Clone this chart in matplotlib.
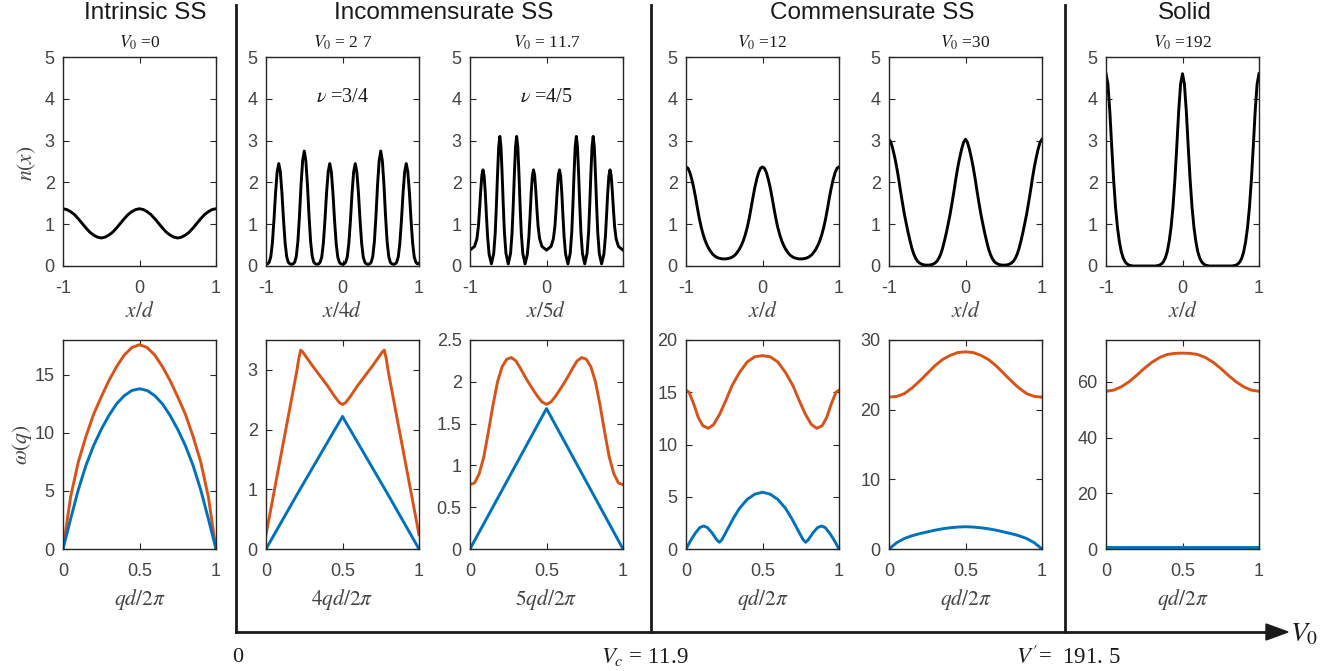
import numpy as np
import matplotlib
matplotlib.use("Agg")
import matplotlib.pyplot as plt
from matplotlib.lines import Line2D
from matplotlib.ticker import FuncFormatter

plt.rcParams['font.family'] = ['Liberation Sans', 'DejaVu Sans']
plt.rcParams['mathtext.fontset'] = 'stix'

# ---------------- data ----------------
# top row: density profiles n(x)
x_a = np.linspace(-1, 1, 41)          # grid for intrinsic panel
n_intrinsic = [1.37, 1.35, 1.30, 1.23, 1.13, 1.02, 0.91, 0.81, 0.74, 0.69, 0.67,
               0.69, 0.74, 0.81, 0.91, 1.02, 1.13, 1.23, 1.30, 1.35, 1.37,
               1.35, 1.30, 1.23, 1.13, 1.02, 0.91, 0.81, 0.74, 0.69, 0.67,
               0.69, 0.74, 0.81, 0.91, 1.02, 1.13, 1.23, 1.30, 1.35, 1.37]

x_b = np.linspace(-1, 1, 97)          # grid for nu = 3/4 panel
n_nu34 = [0.07,
          0.05, 0.09, 0.22, 0.55, 1.10, 1.75, 2.25, 2.45, 2.25, 1.75, 1.10, 0.55, 0.22, 0.09, 0.05, 0.04,
          0.05, 0.09, 0.23, 0.58, 1.20, 1.95, 2.52, 2.75, 2.52, 1.95, 1.20, 0.58, 0.23, 0.09, 0.05, 0.04,
          0.05, 0.09, 0.22, 0.55, 1.10, 1.75, 2.25, 2.45, 2.25, 1.75, 1.10, 0.55, 0.22, 0.09, 0.05, 0.04,
          0.05, 0.09, 0.22, 0.55, 1.10, 1.75, 2.25, 2.45, 2.25, 1.75, 1.10, 0.55, 0.22, 0.09, 0.05, 0.04,
          0.05, 0.09, 0.23, 0.58, 1.20, 1.95, 2.52, 2.75, 2.52, 1.95, 1.20, 0.58, 0.23, 0.09, 0.05, 0.04,
          0.05, 0.09, 0.22, 0.55, 1.10, 1.75, 2.25, 2.45, 2.25, 1.75, 1.10, 0.55, 0.22, 0.09, 0.05, 0.07]

x_nu45 = [-1.0, -0.94, -0.91, -0.89, -0.875, -0.86, -0.845, -0.83, -0.815, -0.8, -0.785, -0.77, -0.75,
          -0.72, -0.69, -0.67, -0.655, -0.64, -0.625, -0.61, -0.595, -0.58, -0.565, -0.55, -0.53, -0.5,
          -0.47, -0.45, -0.435, -0.42, -0.405, -0.39, -0.375, -0.36, -0.345, -0.33, -0.31, -0.28, -0.25,
          -0.23, -0.215, -0.2, -0.185, -0.17, -0.155, -0.14, -0.125, -0.11, -0.09, -0.06,
          0.0, 0.06, 0.09, 0.11, 0.125, 0.14, 0.155, 0.17, 0.185, 0.2, 0.215, 0.23, 0.25, 0.28, 0.31,
          0.33, 0.345, 0.36, 0.375, 0.39, 0.405, 0.42, 0.435, 0.45, 0.47, 0.5, 0.53, 0.55, 0.565, 0.58,
          0.595, 0.61, 0.625, 0.64, 0.655, 0.67, 0.69, 0.72, 0.75, 0.77, 0.785, 0.8, 0.815, 0.83, 0.845,
          0.86, 0.875, 0.89, 0.91, 0.94, 1.0]
n_nu45 = [0.38, 0.47, 0.65, 0.95, 1.35, 1.8, 2.17, 2.3, 2.15, 1.75, 1.2, 0.7, 0.28, 0.05, 0.3,
          0.8, 1.45, 2.2, 2.85, 3.1, 2.85, 2.2, 1.45, 0.8, 0.3, 0.05, 0.3, 0.8, 1.45, 2.2, 2.85, 3.1,
          2.85, 2.2, 1.45, 0.8, 0.3, 0.05, 0.28, 0.7, 1.2, 1.75, 2.15, 2.3, 2.17, 1.8, 1.35, 0.95,
          0.65, 0.47,
          0.38, 0.47, 0.65, 0.95, 1.35, 1.8, 2.17, 2.3, 2.15, 1.75, 1.2, 0.7, 0.28, 0.05, 0.3,
          0.8, 1.45, 2.2, 2.85, 3.1, 2.85, 2.2, 1.45, 0.8, 0.3, 0.05, 0.3, 0.8, 1.45, 2.2, 2.85, 3.1,
          2.85, 2.2, 1.45, 0.8, 0.3, 0.05, 0.28, 0.7, 1.2, 1.75, 2.15, 2.3, 2.17, 1.8, 1.35, 0.95,
          0.65, 0.47, 0.38]

x_c = np.linspace(-1, 1, 81)          # grid for V0 = 12, 30, 192 panels
n_v12 = [2.37, 2.34, 2.24, 2.08, 1.88, 1.64, 1.38, 1.13, 0.92, 0.75, 0.61, 0.5, 0.41, 0.34, 0.28, 0.24, 0.21, 0.19, 0.18, 0.17, 0.17,
         0.17, 0.18, 0.19, 0.21, 0.24, 0.28, 0.34, 0.41, 0.5, 0.61, 0.75, 0.92, 1.13, 1.38, 1.64, 1.88, 2.08, 2.24, 2.34, 2.37,
         2.34, 2.24, 2.08, 1.88, 1.64, 1.38, 1.13, 0.92, 0.75, 0.61, 0.5, 0.41, 0.34, 0.28, 0.24, 0.21, 0.19, 0.18, 0.17, 0.17,
         0.17, 0.18, 0.19, 0.21, 0.24, 0.28, 0.34, 0.41, 0.5, 0.61, 0.75, 0.92, 1.13, 1.38, 1.64, 1.88, 2.08, 2.24, 2.34, 2.37]

n_v30 = [3.03, 2.96, 2.8, 2.6, 2.37, 2.1, 1.8, 1.52, 1.25, 1.02, 0.8, 0.6, 0.42, 0.28, 0.18, 0.11, 0.07, 0.045, 0.03, 0.022, 0.02,
         0.022, 0.03, 0.045, 0.07, 0.11, 0.18, 0.28, 0.42, 0.6, 0.8, 1.02, 1.25, 1.52, 1.8, 2.1, 2.37, 2.6, 2.8, 2.96, 3.03,
         2.96, 2.8, 2.6, 2.37, 2.1, 1.8, 1.52, 1.25, 1.02, 0.8, 0.6, 0.42, 0.28, 0.18, 0.11, 0.07, 0.045, 0.03, 0.022, 0.02,
         0.022, 0.03, 0.045, 0.07, 0.11, 0.18, 0.28, 0.42, 0.6, 0.8, 1.02, 1.25, 1.52, 1.8, 2.1, 2.37, 2.6, 2.8, 2.96, 3.03]

n_v192 = [4.6, 4.35, 3.7, 2.85, 2.05, 1.4, 0.92, 0.58, 0.34, 0.19, 0.1, 0.05, 0.02, 0.01, 0, 0, 0, 0, 0, 0, 0,
          0, 0, 0, 0, 0, 0, 0.01, 0.02, 0.05, 0.1, 0.19, 0.34, 0.58, 0.92, 1.4, 2.05, 2.85, 3.7, 4.35, 4.6,
          4.35, 3.7, 2.85, 2.05, 1.4, 0.92, 0.58, 0.34, 0.19, 0.1, 0.05, 0.02, 0.01, 0, 0, 0, 0, 0, 0, 0,
          0, 0, 0, 0, 0, 0, 0.01, 0.02, 0.05, 0.1, 0.19, 0.34, 0.58, 0.92, 1.4, 2.05, 2.85, 3.7, 4.35, 4.6]

# bottom row: excitation spectra omega(q)
q_a = np.linspace(0, 1, 21)
w1_low = [0, 2.6, 5.1, 7.2, 8.9, 10.3, 11.5, 12.5, 13.2, 13.65, 13.8,
          13.65, 13.2, 12.5, 11.5, 10.3, 8.9, 7.2, 5.1, 2.6, 0]
w1_up = [0, 4.5, 7.5, 9.7, 11.6, 13.1, 14.5, 15.7, 16.7, 17.35, 17.6,
         17.35, 16.7, 15.7, 14.5, 13.1, 11.6, 9.7, 7.5, 4.5, 0]

q2_up = [0, 0.1, 0.2, 0.215, 0.227, 0.24, 0.3, 0.35, 0.4, 0.45, 0.48, 0.5,
         0.52, 0.55, 0.6, 0.65, 0.7, 0.76, 0.773, 0.785, 0.8, 0.9, 1.0]
w2_up = [0.24, 1.60, 2.96, 3.2, 3.33, 3.30, 3.08, 2.91, 2.74, 2.55, 2.45, 2.42,
         2.45, 2.55, 2.74, 2.91, 3.08, 3.30, 3.33, 3.2, 2.96, 1.60, 0.24]
q2_low = [0, 0.1, 0.2, 0.3, 0.4, 0.45, 0.48, 0.5, 0.52, 0.55, 0.6, 0.7, 0.8, 0.9, 1.0]
w2_low = [0, 0.45, 0.9, 1.34, 1.78, 2.0, 2.13, 2.22, 2.13, 2.0, 1.78, 1.34, 0.9, 0.45, 0]

q3_up = [0, 0.03, 0.06, 0.09, 0.12, 0.15, 0.18, 0.21, 0.24, 0.27, 0.3, 0.33, 0.36, 0.4, 0.44, 0.47, 0.5,
         0.53, 0.56, 0.6, 0.64, 0.67, 0.7, 0.73, 0.76, 0.79, 0.82, 0.85, 0.88, 0.91, 0.94, 0.97, 1.0]
w3_up = [0.77, 0.79, 0.9, 1.1, 1.4, 1.72, 2.0, 2.18, 2.27, 2.29, 2.25, 2.16, 2.06, 1.94, 1.83, 1.76, 1.73,
         1.76, 1.83, 1.94, 2.06, 2.16, 2.25, 2.29, 2.27, 2.18, 2.0, 1.72, 1.4, 1.1, 0.9, 0.79, 0.77]
q3_low = [0, 0.25, 0.5, 0.75, 1.0]
w3_low = [0, 0.84, 1.68, 0.84, 0]

q4_up = [0, 0.02, 0.05, 0.08, 0.11, 0.145, 0.18, 0.22, 0.26, 0.3, 0.35, 0.4, 0.45, 0.5,
         0.55, 0.6, 0.65, 0.7, 0.74, 0.78, 0.82, 0.855, 0.89, 0.92, 0.95, 0.98, 1.0]
w4_up = [15.2, 15.0, 13.9, 12.6, 11.8, 11.55, 11.9, 12.9, 14.2, 15.6, 16.9, 17.9, 18.4, 18.5,
         18.4, 17.9, 16.9, 15.6, 14.2, 12.9, 11.9, 11.55, 11.8, 12.6, 13.9, 15.0, 15.2]
q4_low = [0, 0.03, 0.06, 0.09, 0.115, 0.14, 0.17, 0.2, 0.218, 0.235, 0.27, 0.31, 0.35, 0.4, 0.45, 0.5,
          0.55, 0.6, 0.65, 0.69, 0.73, 0.765, 0.782, 0.8, 0.83, 0.86, 0.885, 0.91, 0.94, 0.97, 1.0]
w4_low = [0, 0.8, 1.5, 2.05, 2.2, 2.05, 1.55, 0.9, 0.64, 0.9, 1.85, 2.95, 3.9, 4.75, 5.25, 5.43,
          5.25, 4.75, 3.9, 2.95, 1.85, 0.9, 0.64, 0.9, 1.55, 2.05, 2.2, 2.05, 1.5, 0.8, 0]

w5_up = [21.8, 21.9, 22.3, 23.1, 24.1, 25.2, 26.3, 27.2, 27.8, 28.2, 28.3,
         28.2, 27.8, 27.2, 26.3, 25.2, 24.1, 23.1, 22.3, 21.9, 21.8]
w5_low = [0, 0.9, 1.5, 1.9, 2.2, 2.45, 2.7, 2.9, 3.05, 3.15, 3.2,
          3.15, 3.05, 2.9, 2.7, 2.45, 2.2, 1.9, 1.5, 0.9, 0]

w6_up = [56.6, 57.0, 58.2, 60.0, 62.3, 64.8, 67.0, 68.7, 69.8, 70.2, 70.3,
         70.2, 69.8, 68.7, 67.0, 64.8, 62.3, 60.0, 58.2, 57.0, 56.6]
q6_low = [0, 1]
w6_low = [0.8, 0.8]

phase_titles = ['Intrinsic SS', 'Incommensurate SS', 'Commensurate SS', 'Solid']
v0_labels = ['=0', '= 2 7', '= 11.7', '=12', '=30', '=192']
top_xlabels = [r'$x/d$', r'$x/4d$', r'$x/5d$', r'$x/d$', r'$x/d$', r'$x/d$']
bot_xlabels = [r'$qd/2\pi$', r'$4qd/2\pi$', r'$5qd/2\pi$', r'$qd/2\pi$', r'$qd/2\pi$', r'$qd/2\pi$']
bot_ylims = [18, 3.5, 2.5, 20, 30, 75]
bot_yticks = [[0, 5, 10, 15], [0, 1, 2, 3], [0, 0.5, 1, 1.5, 2, 2.5],
              [0, 5, 10, 15, 20], [0, 10, 20, 30], [0, 20, 40, 60]]

# ---------------- figure ----------------
W, H = 1332, 671
fig = plt.figure(figsize=(W / 100, H / 100), dpi=100)

lefts = [63, 266, 470, 686, 889, 1106]
aw, ah = 153, 209
top_t, bot_t = 57, 340
orange = '#D95319'
blue = '#0072BD'
ink = '#1a1a1a'
serif = ['Liberation Serif', 'DejaVu Serif']
fmt = FuncFormatter(lambda v, p: '%g' % v)


def make_ax(l, t):
    ax = fig.add_axes([l / W, 1 - (t + ah) / H, aw / W, ah / H])
    ax.tick_params(direction='in', length=4, width=0.8, top=True, right=True,
                   color='#262626', labelcolor='#444444', labelsize=13)
    ax.tick_params(axis='x', pad=10)
    ax.tick_params(axis='y', pad=6)
    for s in ax.spines.values():
        s.set_linewidth(1.0)
        s.set_color('#262626')
    ax.yaxis.set_major_formatter(fmt)
    ax.xaxis.set_major_formatter(fmt)
    return ax


top_data = [(x_a, n_intrinsic), (x_b, n_nu34), (x_nu45, n_nu45),
            (x_c, n_v12), (x_c, n_v30), (x_c, n_v192)]
bot_data = [((q_a, w1_low), (q_a, w1_up)), ((q2_low, w2_low), (q2_up, w2_up)),
            ((q3_low, w3_low), (q3_up, w3_up)), ((q4_low, w4_low), (q4_up, w4_up)),
            ((q_a, w5_low), (q_a, w5_up)), ((q6_low, w6_low), (q_a, w6_up))]

for i in range(6):
    ax = make_ax(lefts[i], top_t)
    xs, ys = top_data[i]
    ax.plot(xs, ys, color='black', lw=2.1)
    ax.set_xlim(-1, 1)
    ax.set_ylim(0, 5)
    ax.set_xticks([-1, 0, 1])
    ax.set_yticks([0, 1, 2, 3, 4, 5])
    ax.set_xlabel(top_xlabels[i], fontsize=15.5, color='#444444', labelpad=3)
    fig.text((lefts[i] + aw / 2) / W, 1 - 43 / H, r'$V_0$' + ' ' + v0_labels[i],
             ha='center', va='center', fontsize=12.5, family=serif, color=ink)
    if i == 1:
        ax.text(0, 4.03, r'$\nu$ =3/4', ha='center', va='center', fontsize=14.5, family=serif, color=ink)
    if i == 2:
        ax.text(0, 4.03, r'$\nu$ =4/5', ha='center', va='center', fontsize=14.5, family=serif, color=ink)

    bx = make_ax(lefts[i], bot_t)
    (ql, wl), (qu, wu) = bot_data[i]
    bx.plot(qu, wu, color=orange, lw=2.1)
    bx.plot(ql, wl, color=blue, lw=2.1)
    bx.set_xlim(0, 1)
    bx.set_ylim(0, bot_ylims[i])
    bx.set_xticks([0, 0.5, 1])
    bx.set_yticks(bot_yticks[i])
    bx.set_xlabel(bot_xlabels[i], fontsize=15.5, color='#444444', labelpad=5)

fig.text(27 / W, 1 - 163 / H, r'$n(x)$', rotation=90, ha='center', va='center', fontsize=15.5, color='#444444')
fig.text(22 / W, 1 - 445 / H, r'$\omega(q)$', rotation=90, ha='center', va='center', fontsize=15.5, color='#444444')

# phase headers
for cx, txt in zip([145, 444, 872, 1185], phase_titles):
    fig.text(cx / W, 1 - 13 / H, txt, ha='center', va='center', fontsize=17.5, color=ink)

# separators and V0 axis arrow
for sx in [236, 651, 1065]:
    fig.add_artist(Line2D([sx / W, sx / W], [1 - 5 / H, 1 - 632 / H], color=ink, lw=2))
fig.add_artist(Line2D([236 / W, 1270 / W], [1 - 632 / H, 1 - 632 / H], color=ink, lw=2))
fig.patches.append(plt.Polygon([[1266 / W, 1 - 624 / H], [1288 / W, 1 - 632 / H], [1266 / W, 1 - 640 / H]],
                               closed=True, transform=fig.transFigure, color=ink, figure=fig))
fig.text(1290 / W, 1 - 634 / H, r'$V_0$', ha='left', va='center', fontsize=20, color=ink)

fig.text(238 / W, 1 - 657 / H, '0', ha='center', va='center', fontsize=16, family=serif, color=ink)
fig.text(645 / W, 1 - 657 / H, r'$V_c$' + ' = 11.9', ha='center', va='center', fontsize=16.5, family=serif, color=ink)
fig.text(1068 / W, 1 - 657 / H, r"$V'$" + '=  191. 5', ha='center', va='center', fontsize=16.5, family=serif, color=ink)

fig.savefig('out.png', dpi=100)
